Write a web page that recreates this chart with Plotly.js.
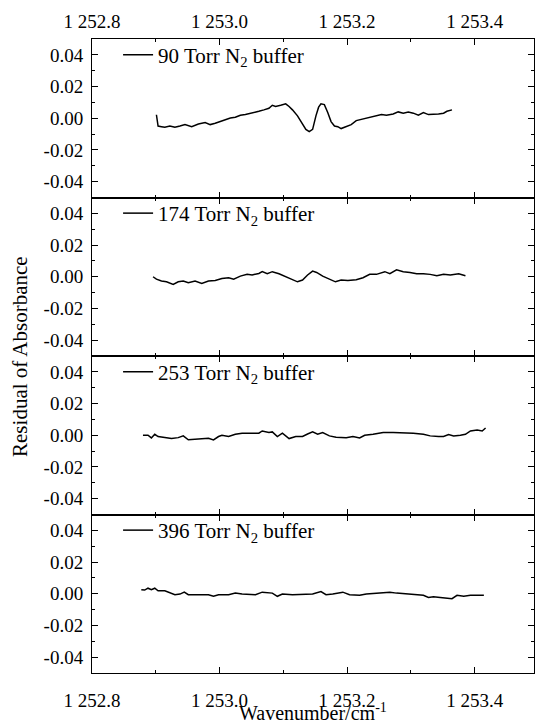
<!DOCTYPE html>
<html>
<head>
<meta charset="utf-8">
<script src="https://cdn.plot.ly/plotly-3.0.1.min.js"></script>
<style>html,body{margin:0;padding:0;background:#fff;font-family:'Liberation Serif',serif;}</style>
</head>
<body>
<div id="chart" style="width:535px;height:727px;"></div>
<script>
// ---- data ----
var seriesNames = ["90 Torr N<sub>2</sub> buffer", "174 Torr N<sub>2</sub> buffer", "253 Torr N<sub>2</sub> buffer", "396 Torr N<sub>2</sub> buffer"];

var x90 = [1252.9010,1252.9036,1252.9089,1252.9142,1252.9221,1252.9300,1252.9379,1252.9458,1252.9563,1252.9668,1252.9774,1252.9853,1252.9932,1253.0011,1253.0090,1253.0169,1253.0247,1253.0326,1253.0405,1253.0511,1253.0616,1253.0695,1253.0774,1253.0827,1253.0879,1253.0958,1253.1037,1253.1090,1253.1143,1253.1222,1253.1301,1253.1353,1253.1406,1253.1459,1253.1511,1253.1553,1253.1590,1253.1643,1253.1696,1253.1748,1253.1801,1253.1854,1253.1906,1253.1985,1253.2064,1253.2143,1253.2249,1253.2354,1253.2459,1253.2538,1253.2617,1253.2722,1253.2801,1253.2880,1253.2959,1253.3038,1253.3117,1253.3196,1253.3275,1253.3354,1253.3433,1253.3512,1253.3565,1253.3644];
var y90 = [0.0022,-0.0049,-0.0053,-0.0057,-0.0049,-0.0057,-0.0049,-0.0040,-0.0053,-0.0036,-0.0027,-0.0040,-0.0032,-0.0021,-0.0006,0.0002,0.0006,0.0019,0.0023,0.0036,0.0044,0.0053,0.0063,0.0082,0.0074,0.0082,0.0091,0.0074,0.0053,0.0015,-0.0040,-0.0070,-0.0084,-0.0070,0.0015,0.0070,0.0091,0.0086,0.0036,-0.0021,-0.0049,-0.0053,-0.0065,-0.0053,-0.0040,-0.0015,-0.0006,0.0006,0.0015,0.0023,0.0019,0.0027,0.0040,0.0032,0.0040,0.0032,0.0019,0.0036,0.0023,0.0023,0.0027,0.0032,0.0044,0.0053];

var x174 = [1252.8957,1252.9010,1252.9089,1252.9168,1252.9273,1252.9352,1252.9431,1252.9510,1252.9616,1252.9721,1252.9826,1252.9932,1253.0037,1253.0142,1253.0221,1253.0326,1253.0432,1253.0511,1253.0616,1253.0669,1253.0748,1253.0827,1253.0932,1253.1037,1253.1143,1253.1222,1253.1301,1253.1380,1253.1459,1253.1522,1253.1617,1253.1722,1253.1817,1253.1906,1253.2012,1253.2143,1253.2249,1253.2354,1253.2459,1253.2591,1253.2670,1253.2775,1253.2880,1253.2986,1253.3091,1253.3196,1253.3302,1253.3407,1253.3512,1253.3618,1253.3749,1253.3855];
var y174 = [0.0000,-0.0015,-0.0027,-0.0032,-0.0048,-0.0032,-0.0027,-0.0038,-0.0027,-0.0042,-0.0027,-0.0023,-0.0011,-0.0006,-0.0015,0.0004,0.0015,0.0011,0.0021,0.0032,0.0019,0.0032,0.0019,0.0000,-0.0021,-0.0032,-0.0021,0.0011,0.0036,0.0027,0.0004,-0.0015,-0.0032,-0.0021,-0.0023,-0.0019,-0.0006,0.0015,0.0015,0.0032,0.0019,0.0044,0.0032,0.0027,0.0019,0.0019,0.0015,0.0006,0.0015,0.0011,0.0019,0.0006];

var x253 = [1252.8799,1252.8878,1252.8931,1252.8984,1252.9036,1252.9142,1252.9247,1252.9352,1252.9431,1252.9510,1252.9616,1252.9721,1252.9826,1252.9905,1252.9984,1253.0037,1253.0142,1253.0247,1253.0353,1253.0511,1253.0616,1253.0669,1253.0774,1253.0827,1253.0906,1253.0985,1253.1090,1253.1195,1253.1301,1253.1380,1253.1459,1253.1538,1253.1617,1253.1722,1253.1827,1253.1985,1253.2091,1253.2196,1253.2275,1253.2407,1253.2565,1253.2722,1253.2880,1253.3038,1253.3196,1253.3302,1253.3433,1253.3512,1253.3591,1253.3670,1253.3776,1253.3855,1253.3934,1253.4039,1253.4118,1253.4171];
var y253 = [0.0000,0.0000,-0.0017,0.0006,-0.0008,-0.0015,-0.0021,-0.0015,-0.0004,-0.0029,-0.0025,-0.0025,-0.0019,-0.0029,-0.0008,0.0000,-0.0008,0.0006,0.0013,0.0013,0.0013,0.0027,0.0017,0.0021,-0.0008,0.0013,-0.0021,-0.0008,-0.0008,0.0008,0.0021,0.0006,0.0017,-0.0004,-0.0013,-0.0015,-0.0008,-0.0017,0.0000,0.0006,0.0017,0.0017,0.0017,0.0013,0.0006,-0.0004,-0.0008,-0.0008,0.0004,-0.0004,0.0000,0.0006,0.0027,0.0033,0.0027,0.0046];

var x396 = [1252.8773,1252.8826,1252.8878,1252.8931,1252.8984,1252.9036,1252.9142,1252.9221,1252.9300,1252.9379,1252.9447,1252.9510,1252.9616,1252.9721,1252.9826,1252.9905,1252.9984,1253.0142,1253.0247,1253.0353,1253.0458,1253.0563,1253.0669,1253.0827,1253.0906,1253.0985,1253.1143,1253.1301,1253.1459,1253.1590,1253.1669,1253.1775,1253.1933,1253.2038,1253.2196,1253.2301,1253.2459,1253.2565,1253.2670,1253.2775,1253.2933,1253.3091,1253.3196,1253.3275,1253.3354,1253.3460,1253.3565,1253.3644,1253.3723,1253.3828,1253.3934,1253.4039,1253.4144];
var y396 = [0.0025,0.0023,0.0035,0.0025,0.0035,0.0019,0.0019,0.0004,-0.0006,-0.0002,0.0010,-0.0006,-0.0006,-0.0002,-0.0006,-0.0016,-0.0006,-0.0006,0.0004,-0.0002,-0.0002,-0.0006,0.0010,0.0004,-0.0016,-0.0002,-0.0006,-0.0002,-0.0002,0.0014,-0.0006,-0.0002,0.0010,-0.0006,-0.0010,-0.0002,0.0004,0.0004,0.0010,0.0004,-0.0002,-0.0006,-0.0010,-0.0023,-0.0019,-0.0023,-0.0027,-0.0031,-0.0010,-0.0016,-0.0010,-0.0010,-0.0010];

var xTickVals = [1252.8, 1253.0, 1253.2, 1253.4];
var xTickText = ["1 252.8", "1 253.0", "1 253.2", "1 253.4"];
var yTickVals = [-0.04, -0.02, 0.00, 0.02, 0.04];
var yTickText = ["-0.04", "-0.02", "0.00", "0.02", "0.04"];

var xTitle = "Wavenumber/cm<sup>-1</sup>";
var yTitle = "Residual of Absorbance";

// ---- chart ----
var FONT = "Liberation Serif";
var xs = [x90, x174, x253, x396];
var ys = [y90, y174, y253, y396];
var legendNames = ["legend", "legend2", "legend3", "legend4"];

var traces = [];
for (var i = 0; i < 4; i++) {
  traces.push({
    type: "scatter", mode: "lines",
    x: xs[i], y: ys[i],
    name: seriesNames[i],
    xaxis: i === 0 ? "x" : "x" + (i + 1),
    yaxis: i === 0 ? "y" : "y" + (i + 1),
    legend: legendNames[i],
    line: {color: "#000", width: 1.5},
    showlegend: true
  });
}

var xRange = [1252.8, 1253.493];
var yRange = [-0.05, 0.05];

function xAxis(i) {
  return {
    range: xRange, anchor: i === 0 ? "y" : "y" + (i + 1),
    tickmode: "array", tickvals: xTickVals, ticktext: xTickText,
    ticks: "inside", ticklen: 6, tickwidth: 1, tickcolor: "#000",
    minor: {ticks: "inside", dtick: 0.1, tick0: 1252.8, ticklen: 3, tickcolor: "#000", tickwidth: 1},
    showline: true, linecolor: "#000", linewidth: 1, mirror: "ticks",
    showgrid: false, zeroline: false,
    side: i === 0 ? "top" : "bottom",
    showticklabels: (i === 0 || i === 3),
    tickfont: {family: FONT, size: 19, color: "#000"},
    ticklabelstandoff: (i === 0) ? 2 : 10
  };
}
function yAxis(i) {
  var top = 1 - i * 0.25;
  return {
    domain: [top - 0.25, top],
    range: yRange, anchor: i === 0 ? "x" : "x" + (i + 1),
    tickmode: "array", tickvals: yTickVals, ticktext: yTickText,
    ticks: "inside", ticklen: 6, tickwidth: 1, tickcolor: "#000",
    minor: {ticks: "inside", dtick: 0.01, tick0: 0, ticklen: 3, tickcolor: "#000", tickwidth: 1},
    showline: true, linecolor: "#000", linewidth: 1, mirror: "ticks",
    showgrid: false, zeroline: false,
    tickfont: {family: FONT, size: 19, color: "#000"},
    ticklabelstandoff: 4
  };
}

var legendY = [0.9748, 0.7248, 0.4748, 0.2248];
var layout = {
  width: 535, height: 727,
  margin: {l: 92, r: 1, t: 39, b: 54, pad: 0},
  paper_bgcolor: "#fff", plot_bgcolor: "#fff",
  font: {family: FONT, size: 19, color: "#000"},
  annotations: [
    {text: xTitle, xref: "paper", yref: "paper", x: 0.5, y: -0.062, xanchor: "center", yanchor: "middle",
     showarrow: false, borderpad: 0, font: {family: FONT, size: 20, color: "#000"}},
    {text: yTitle, xref: "paper", yref: "paper", x: -0.163, y: 0.5, xanchor: "center", yanchor: "middle",
     textangle: -90, showarrow: false, font: {family: FONT, size: 21, color: "#000"}}
  ]
};
for (var k = 0; k < 4; k++) {
  layout[k === 0 ? "xaxis" : "xaxis" + (k + 1)] = xAxis(k);
  layout[k === 0 ? "yaxis" : "yaxis" + (k + 1)] = yAxis(k);
  layout[legendNames[k]] = {
    x: 0.059, y: legendY[k], xanchor: "left", yanchor: "middle",
    bgcolor: "rgba(0,0,0,0)", borderwidth: 0,
    font: {family: FONT, size: 21, color: "#000"},
    itemwidth: 30
  };
}

function draw() {
  Plotly.newPlot("chart", traces, layout, {staticPlot: true, displayModeBar: false});
}
if (document.fonts && document.fonts.load) {
  document.fonts.load("19px 'Liberation Serif'").then(draw, draw);
} else {
  draw();
}
</script>
</body>
</html>
